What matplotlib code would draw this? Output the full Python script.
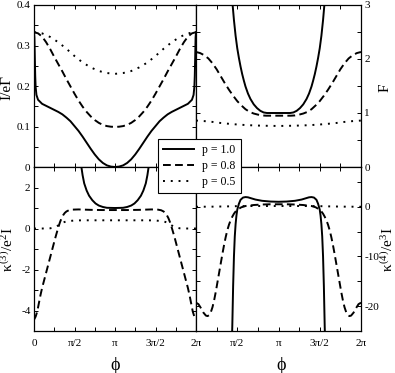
import numpy as np
import matplotlib
matplotlib.use('Agg')
import matplotlib.pyplot as plt
from matplotlib.ticker import MultipleLocator, FuncFormatter, FixedLocator, FixedFormatter
from matplotlib.lines import Line2D

plt.rcParams['font.family'] = ['Liberation Serif', 'DejaVu Serif']
plt.rcParams['mathtext.fontset'] = 'custom'
plt.rcParams['mathtext.rm'] = 'Liberation Serif'
plt.rcParams['mathtext.it'] = 'Liberation Serif'
plt.rcParams['mathtext.bf'] = 'Liberation Serif:bold'
plt.rcParams['axes.unicode_minus'] = False

# ---------------- data (phi in units of pi) ----------------
# Top-left: current I/eGamma
phi_I_p10 = [0, 0.005, 0.01, 0.015, 0.02, 0.03, 0.05, 0.1, 0.15, 0.2, 0.25, 0.3, 0.35, 0.4, 0.45,
             0.5, 0.55, 0.6, 0.65, 0.7, 0.75, 0.8, 0.85, 0.9, 0.95, 1.0,
             1.05, 1.1, 1.15, 1.2, 1.25, 1.3, 1.35, 1.4, 1.45, 1.5, 1.55, 1.6, 1.65, 1.7, 1.75,
             1.8, 1.85, 1.9, 1.95, 1.97, 1.98, 1.985, 1.99, 1.995, 2.0]
I_p10 = [0.333, 0.32, 0.27, 0.225, 0.198, 0.178, 0.166, 0.156, 0.151, 0.146, 0.141, 0.136, 0.130,
         0.122, 0.113, 0.101, 0.089, 0.075, 0.060, 0.045, 0.031, 0.019, 0.010, 0.004, 0.001, 0.0,
         0.001, 0.004, 0.010, 0.019, 0.031, 0.045, 0.060, 0.075, 0.089, 0.101, 0.113, 0.122, 0.130,
         0.136, 0.141, 0.146, 0.151, 0.156, 0.166, 0.178, 0.198, 0.225, 0.27, 0.32, 0.333]

phi_I_p08 = [0, 0.05, 0.1, 0.15, 0.2, 0.25, 0.3, 0.35, 0.4, 0.45, 0.5, 0.55, 0.6, 0.65, 0.7, 0.75,
             0.8, 0.85, 0.9, 0.95, 1.0, 1.05, 1.1, 1.15, 1.2, 1.25, 1.3, 1.35, 1.4, 1.45, 1.5,
             1.55, 1.6, 1.65, 1.7, 1.75, 1.8, 1.85, 1.9, 1.95, 2.0]
I_p08 = [0.333, 0.330, 0.322, 0.308, 0.291, 0.272, 0.254, 0.236, 0.217, 0.199, 0.181, 0.164,
         0.149, 0.136, 0.125, 0.116, 0.109, 0.104, 0.101, 0.0995, 0.099, 0.0995, 0.101, 0.104,
         0.109, 0.116, 0.125, 0.136, 0.149, 0.164, 0.181, 0.199, 0.217, 0.236, 0.254, 0.272,
         0.291, 0.308, 0.322, 0.330, 0.333]

phi_I_p05 = [0, 0.1, 0.2, 0.3, 0.4, 0.5, 0.6, 0.7, 0.8, 0.9, 1.0, 1.1, 1.2, 1.3, 1.4, 1.5, 1.6,
             1.7, 1.8, 1.9, 2.0]
I_p05 = [0.333, 0.33, 0.321, 0.308, 0.292, 0.274, 0.258, 0.246, 0.237, 0.232, 0.230, 0.232,
         0.237, 0.246, 0.258, 0.274, 0.292, 0.308, 0.321, 0.33, 0.333]

# Top-right: Fano factor F
phi_F_p10 = [0.43, 0.444, 0.46, 0.48, 0.5, 0.52, 0.54, 0.56, 0.58, 0.6, 0.63, 0.66, 0.7, 0.74,
             0.78, 0.82, 0.86, 0.9, 1.0, 1.1, 1.14, 1.18, 1.22, 1.26, 1.3, 1.34, 1.37, 1.4, 1.42,
             1.44, 1.46, 1.48, 1.5, 1.52, 1.54, 1.556, 1.57]
F_p10 = [3.4, 3.0, 2.72, 2.43, 2.2, 2.02, 1.86, 1.72, 1.60, 1.49, 1.36, 1.26, 1.16, 1.09, 1.04,
         1.01, 1.0, 1.0, 1.0, 1.0, 1.0, 1.01, 1.04, 1.09, 1.16, 1.26, 1.36, 1.49, 1.60, 1.72,
         1.86, 2.02, 2.2, 2.43, 2.72, 3.0, 3.4]

phi_F_p08 = phi_I_p08
F_p08 = [2.13, 2.11, 2.07, 2.01, 1.92, 1.81, 1.68, 1.55, 1.43, 1.32, 1.22, 1.14, 1.07, 1.02,
         0.99, 0.97, 0.955, 0.95, 0.95, 0.95, 0.95, 0.95, 0.95, 0.95, 0.955, 0.97, 0.99, 1.02,
         1.07, 1.14, 1.22, 1.32, 1.43, 1.55, 1.68, 1.81, 1.92, 2.01, 2.07, 2.11, 2.13]

phi_F_p05 = phi_I_p05
F_p05 = [0.86, 0.85, 0.835, 0.815, 0.8, 0.787, 0.777, 0.77, 0.765, 0.762, 0.76, 0.762, 0.765,
         0.77, 0.777, 0.787, 0.8, 0.815, 0.835, 0.85, 0.86]

# Bottom-left: kappa3 / e^2 I
phi_K3_p10 = [0.57, 0.585, 0.6, 0.62, 0.65, 0.68, 0.72, 0.76, 0.8, 0.85, 0.9, 1.0, 1.1, 1.15,
              1.2, 1.24, 1.28, 1.32, 1.35, 1.38, 1.4, 1.415, 1.43]
K3_p10 = [3.4, 3.0, 2.6, 2.2, 1.85, 1.6, 1.38, 1.22, 1.12, 1.05, 1.01, 1.0, 1.01, 1.05, 1.12,
          1.22, 1.38, 1.6, 1.85, 2.2, 2.6, 3.0, 3.4]

phi_K3_p08 = [0, 0.02, 0.04, 0.06, 0.08, 0.1, 0.12, 0.14, 0.16, 0.18, 0.2, 0.22, 0.24, 0.26,
              0.28, 0.3, 0.32, 0.34, 0.36, 0.38, 0.4, 0.43, 0.47, 0.55, 0.7, 0.85, 1.0,
              1.15, 1.3, 1.45, 1.53, 1.57, 1.6, 1.62, 1.64, 1.66, 1.68, 1.7, 1.72, 1.74, 1.76,
              1.78, 1.8, 1.82, 1.84, 1.86, 1.88, 1.9, 1.92, 1.94, 1.96, 1.98, 2.0]
K3_p08 = [-4.45, -4.3, -4.05, -3.65, -3.25, -2.9, -2.6, -2.3, -2.0, -1.7, -1.4, -1.1, -0.8,
          -0.5, -0.22, 0.05, 0.3, 0.5, 0.65, 0.76, 0.83, 0.89, 0.92, 0.93, 0.91, 0.9, 0.9,
          0.9, 0.91, 0.93, 0.92, 0.89, 0.83, 0.76, 0.65, 0.5, 0.3, 0.05, -0.22, -0.5, -0.8,
          -1.1, -1.4, -1.7, -2.0, -2.3, -2.6, -2.9, -3.25, -3.65, -4.05, -4.3, -4.45]

phi_K3_p05 = [0, 0.1, 0.15, 0.2, 0.25, 0.3, 0.35, 0.4, 0.5, 0.6, 1.0, 1.4, 1.5, 1.6, 1.65, 1.7,
              1.75, 1.8, 1.85, 1.9, 2.0]
K3_p05 = [0.0, 0.0, 0.0, 0.01, 0.05, 0.15, 0.28, 0.35, 0.39, 0.4, 0.4, 0.4, 0.39, 0.35, 0.28,
          0.15, 0.05, 0.01, 0.0, 0.0, 0.0]

# Bottom-right: kappa4 / e^3 I
phi_K4_p10 = [0.43, 0.44, 0.45, 0.46, 0.47, 0.48, 0.49, 0.5, 0.52, 0.54, 0.57, 0.6, 0.63, 0.67,
              0.72, 0.8, 0.9, 1.0, 1.1, 1.2, 1.28, 1.33, 1.37, 1.4, 1.43, 1.46, 1.48, 1.5, 1.51,
              1.52, 1.53, 1.54, 1.55, 1.56, 1.57]
K4_p10 = [-30, -24, -16, -10, -6, -3.5, -1.8, -0.6, 0.6, 1.4, 1.85, 1.95, 1.9, 1.7, 1.45, 1.2,
          1.05, 1.0, 1.05, 1.2, 1.45, 1.7, 1.9, 1.95, 1.85, 1.4, 0.6, -0.6, -1.8, -3.5, -6, -10,
          -16, -24, -30]

phi_K4_p08 = [0, 0.03, 0.06, 0.09, 0.12, 0.14, 0.16, 0.18, 0.2, 0.22, 0.24, 0.26, 0.28, 0.3,
              0.32, 0.34, 0.36, 0.38, 0.4, 0.42, 0.44, 0.46, 0.48, 0.5, 0.55, 0.6, 0.7, 0.8, 0.9,
              1.0, 1.1, 1.2, 1.3, 1.4, 1.45, 1.5, 1.52, 1.54, 1.56, 1.58, 1.6, 1.62, 1.64, 1.66,
              1.68, 1.7, 1.72, 1.74, 1.76, 1.78, 1.8, 1.82, 1.84, 1.86, 1.88, 1.91, 1.94, 1.97, 2.0]
K4_p08 = [-19.3, -19.6, -20.4, -21.3, -21.9, -22.0, -21.8, -21.2, -20.2, -18.8, -17.1, -15.2,
          -13.3, -11.4, -9.5, -7.7, -6.1, -4.7, -3.6, -2.7, -2.0, -1.4, -0.95, -0.6, -0.1, 0.15,
          0.35, 0.45, 0.5, 0.5, 0.5, 0.45, 0.35, 0.15, -0.1, -0.6, -0.95, -1.4, -2.0, -2.7,
          -3.6, -4.7, -6.1, -7.7, -9.5, -11.4, -13.3, -15.2, -17.1, -18.8, -20.2, -21.2, -21.8,
          -22.0, -21.9, -21.3, -20.4, -19.6, -19.3]

phi_K4_p05 = [0, 0.2, 0.4, 0.5, 0.7, 1.0, 1.3, 1.5, 1.6, 1.8, 2.0]
K4_p05 = [0.0, 0.02, 0.08, 0.12, 0.15, 0.15, 0.15, 0.12, 0.08, 0.02, 0.0]

labels = ['p = 1.0', 'p = 0.8', 'p = 0.5']
x_tickpos = [0, 0.5, 1.0, 1.5, 2.0]   # in units of pi
x_ticklabels = ['0', 'π/2', 'π', '3π/2', '2π']

# ---------------- styling ----------------
LW = 1.4
styles = [dict(ls='-'), dict(ls=(0, (4, 2.2))), dict(ls=(0, (1, 3)))]

fig = plt.figure(figsize=(3.95, 3.73), dpi=100)
W, H = 395.0, 373.0
L, M, R = 34 / W, 196 / W, 361 / W
T, C, B = 1 - 5 / H, 1 - 167 / H, 1 - 331 / H

ax_tl = fig.add_axes([L, C, M - L, T - C])
ax_tr = fig.add_axes([M, C, R - M, T - C])
ax_bl = fig.add_axes([L, B, M - L, C - B])
ax_br = fig.add_axes([M, B, R - M, C - B])

def plot_set(ax, sets):
    for (ph, val), st in zip(sets, styles):
        ax.plot(np.array(ph) * np.pi, val, color='black', lw=LW, dash_capstyle='butt', **st)

plot_set(ax_tl, [(phi_I_p10, I_p10), (phi_I_p08, I_p08), (phi_I_p05, I_p05)])
plot_set(ax_tr, [(phi_F_p10, F_p10), (phi_F_p08, F_p08), (phi_F_p05, F_p05)])
plot_set(ax_bl, [(phi_K3_p10, K3_p10), (phi_K3_p08, K3_p08), (phi_K3_p05, K3_p05)])
plot_set(ax_br, [(phi_K4_p10, K4_p10), (phi_K4_p08, K4_p08), (phi_K4_p05, K4_p05)])

def fmt_num(v, pos):
    if abs(v) < 1e-9:
        return '0'
    if abs(v - round(v)) < 1e-9:
        return '%d' % int(round(v))
    return '%.1f' % v

xt = [p * np.pi for p in x_tickpos]
for ax in (ax_tl, ax_tr, ax_bl, ax_br):
    ax.set_xlim(0, 2 * np.pi)
    ax.xaxis.set_major_locator(FixedLocator(xt))
    ax.xaxis.set_minor_locator(MultipleLocator(np.pi / 4))
    ax.tick_params(which='both', direction='in', top=True, bottom=True, left=True, right=True,
                   length=2.9, width=0.7, labelsize=8, pad=2.5,
                   labelleft=False, labelright=False, labelbottom=False, labeltop=False)
    for s in ax.spines.values():
        s.set_linewidth(0.9)
    ax.yaxis.set_major_formatter(FuncFormatter(fmt_num))

ax_tl.set_ylim(0, 0.4)
ax_tl.yaxis.set_major_locator(MultipleLocator(0.1))
ax_tl.yaxis.set_minor_locator(MultipleLocator(0.05))
ax_tl.tick_params(labelleft=True)

ax_tr.set_ylim(0, 3)
ax_tr.yaxis.set_major_locator(MultipleLocator(1))
ax_tr.yaxis.set_minor_locator(MultipleLocator(0.5))
ax_tr.tick_params(labelright=True)

ax_bl.set_ylim(-5, 3)
ax_bl.yaxis.set_major_locator(MultipleLocator(2))
ax_bl.yaxis.set_minor_locator(MultipleLocator(1))
ax_bl.tick_params(labelleft=True, labelbottom=True)
ax_bl.xaxis.set_major_formatter(FixedFormatter(x_ticklabels))
ax_bl.tick_params(axis='x', pad=6)

ax_br.set_ylim(-25, 8)
ax_br.yaxis.set_major_locator(MultipleLocator(10))
ax_br.yaxis.set_minor_locator(MultipleLocator(5))
ax_br.tick_params(labelright=True, labelbottom=True)
ax_br.xaxis.set_major_formatter(FixedFormatter([''] + x_ticklabels[1:]))
ax_br.tick_params(axis='x', pad=6)

# axis labels
fs_lab = 11
fig.text(7 / W, 1 - 88 / H, 'I/eΓ', rotation=90, ha='center', va='center', fontsize=fs_lab)
fig.text(8 / W, 1 - 250 / H, r'$\kappa^{(3)}/e^2$I', rotation=90, ha='center', va='center', fontsize=fs_lab)
fig.text(385 / W, 1 - 88 / H, 'F', rotation=90, ha='center', va='center', fontsize=fs_lab)
fig.text(388 / W, 1 - 250 / H, r'$\kappa^{(4)}/e^3$I', rotation=90, ha='center', va='center', fontsize=fs_lab)
fig.text(115 / W, 1 - 365 / H, 'ϕ', ha='center', va='center', fontsize=13)
fig.text(281 / W, 1 - 365 / H, 'ϕ', ha='center', va='center', fontsize=13)

# legend
handles = [Line2D([], [], color='black', lw=LW, dash_capstyle='butt', **st) for st in styles]
leg = fig.legend(handles, labels, loc='upper left', bbox_to_anchor=(158 / W, 1 - 139 / H),
                 fontsize=8.5, frameon=True, fancybox=False, framealpha=1, edgecolor='black',
                 borderpad=0.45, labelspacing=0.33, handlelength=2.6, handletextpad=0.7,
                 borderaxespad=0)
leg.get_frame().set_linewidth(0.8)

fig.savefig('out.png', dpi=100)
